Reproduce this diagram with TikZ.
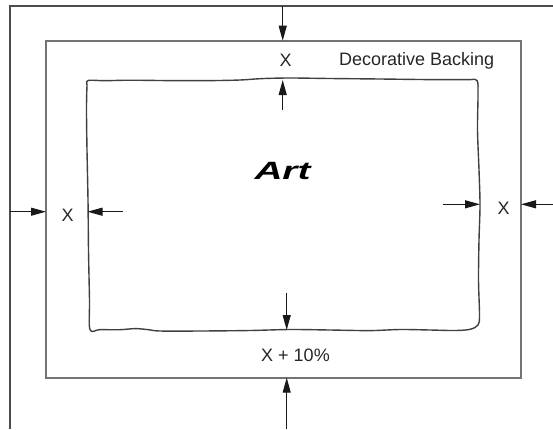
\documentclass[tikz,border=0pt]{standalone}
\usepackage{fontspec}
\setmainfont{Liberation Sans}
\usetikzlibrary{arrows.meta}
\begin{document}
\begin{tikzpicture}[x=1pt,y=-1pt,
  dimarrow/.style={draw=black!90, line width=1.1pt, -{Triangle[length=15pt,width=8pt]}},
  lbl/.style={font=\fontsize{18}{18}\selectfont, text=black!85, inner sep=0pt, anchor=base},
  frameline/.style={draw=black!70, line width=1.4pt},
  backline/.style={draw=black!55, line width=1.6pt},
  artline/.style={draw=black!75, line width=1.4pt}]
\useasboundingbox (0,0) rectangle (553,429);
% outer frame (cropped)
\draw[frameline] (10,429) -- (10,6) -- (553,6);
% decorative backing
\draw[backline] (46,40.7) rectangle (521,377.7);
% art, hand-drawn edge
\draw[artline] plot[smooth cycle, tension=0.55] coordinates {
 (88,80.5) (105,80.7) (130,80.2) (170,80.6) (210,80.6) (240,80) (262,78.6) (290,78) (330,78.5) (380,79) (430,79.6) (468,79.6) (477,80.5)
 (478,95) (477.5,130) (479,170) (480,205) (479,240) (478.5,280) (479.5,315) (478,325)
 (470,329.3) (455,330.5) (430,330) (400,329.5) (370,330.6) (330,330) (290,329.5) (250,330.5) (200,331) (160,331) (148,329.6) (135,328.6) (120,329.7) (100,329.6) (90,329.5)
 (89.5,300) (88.5,250) (88,200) (87,150) (86.5,110) (87,86)};
% anchor coordinates
\coordinate (topA) at (282.7,6);
\coordinate (topB) at (282.7,40.7);
\coordinate (topC) at (282.7,110);
\coordinate (topD) at (282.7,80);
\coordinate (lfA) at (10,211.7);
\coordinate (lfB) at (46,211.7);
\coordinate (lfC) at (123,211.7);
\coordinate (lfD) at (87.5,211.7);
\coordinate (rtA) at (443,204.3);
\coordinate (rtB) at (480,204.3);
\coordinate (rtC) at (553,204.3);
\coordinate (rtD) at (521,204.3);
\coordinate (btA) at (286.7,292.7);
\coordinate (btB) at (286.7,330);
\coordinate (btC) at (286.7,429);
\coordinate (btD) at (286.7,377.7);
% arrows
\draw[dimarrow] (topA) -- (topB);
\draw[dimarrow] (topC) -- (topD);
\draw[dimarrow] (lfA) -- (lfB);
\draw[dimarrow] (lfC) -- (lfD);
\draw[dimarrow] (rtA) -- (rtB);
\draw[dimarrow] (rtC) -- (rtD);
\draw[dimarrow] (btA) -- (btB);
\draw[dimarrow] (btC) -- (btD);
% labels
\node[lbl] (xtop) at (285.7,66.7) {X};
\node[lbl] (xleft) at (67.7,221.7) {X};
\node[lbl] (xright) at (503.5,214) {X};
\node[lbl] (xbot) at (295.5,361.7) {X + 10\%};
\node[lbl] (backing) at (416.7,65.6) {Decorative Backing};
\node[inner sep=0pt, anchor=base, text=black] (art) at (282.5,179)
  {\scalebox{1.55}[1]{\fontsize{25}{25}\selectfont\bfseries\itshape Art}};
\end{tikzpicture}
\end{document}
